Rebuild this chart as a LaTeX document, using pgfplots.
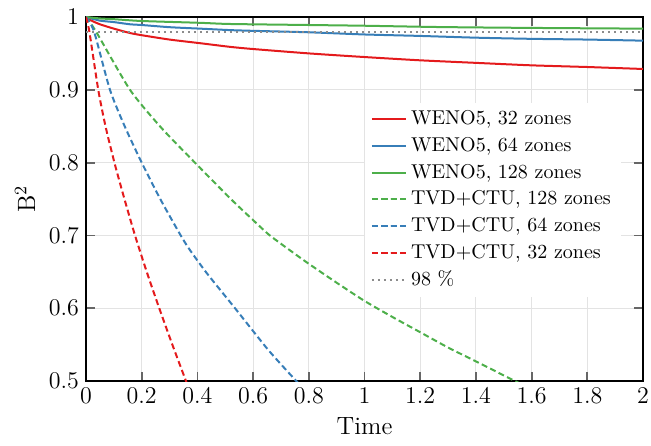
\documentclass[border=0pt]{standalone}
\usepackage{pgfplots}
\pgfplotsset{compat=1.18}
\usetikzlibrary{calc}
\definecolor{cred}{RGB}{228,26,28}
\definecolor{cblue}{RGB}{55,126,184}
\definecolor{cgreen}{RGB}{77,175,74}
\definecolor{cdot}{RGB}{140,140,140}
\begin{document}
\begin{tikzpicture}
\begin{axis}[
  scale only axis,
  width=278.5pt, height=182pt,
  xmin=0, xmax=2, ymin=0.5, ymax=1,
  xtick={0,0.2,...,2.01}, ytick={0.5,0.6,...,1.01},
  grid=major,
  major grid style={gray!22, line width=0.5pt},
  axis line style={black, line width=0.9pt},
  major tick style={gray!80!black, line width=0.9pt},
  major tick length=4.5pt,
  tick label style={font=\fontsize{12.5}{15}\selectfont},
  label style={font=\fontsize{12.5}{15}\selectfont},
  xlabel={Time}, ylabel={B\textsuperscript{2}},
  legend cell align=left,
  legend style={draw=none, fill=white, at={(axis cs:1.0,0.883)}, anchor=north west, font=\normalsize, row sep=0.8pt},
  every axis plot/.append style={line width=1pt, smooth, tension=0.4},
]
\addplot[cred] coordinates {(0,1) (0.02,0.995) (0.05,0.990) (0.1,0.984) (0.158,0.978) (0.2,0.975) (0.3,0.969) (0.41,0.964) (0.517,0.959) (0.6,0.956) (0.8,0.950) (1.0,0.945) (1.2,0.9405) (1.4,0.937) (1.6,0.9336) (1.8,0.9313) (2.0,0.9286)};
\addlegendentry{WENO5, 32 zones}
\addplot[cblue] coordinates {(0,1) (0.05,0.995) (0.1,0.993) (0.158,0.990) (0.2,0.989) (0.3,0.986) (0.41,0.984) (0.517,0.982) (0.6,0.981) (0.8,0.979) (1.0,0.976) (1.2,0.974) (1.4,0.9716) (1.6,0.970) (1.8,0.969) (2.0,0.9675)};
\addlegendentry{WENO5, 64 zones}
\addplot[cgreen] coordinates {(0,1) (0.05,0.998) (0.1,0.997) (0.2,0.9945) (0.41,0.992) (0.517,0.9904) (0.8,0.989) (1.0,0.988) (1.27,0.9862) (1.6,0.985) (2.0,0.984)};
\addlegendentry{WENO5, 128 zones}
\addplot[cgreen, dash pattern=on 3pt off 1.7pt] coordinates {(0,1) (0.036,0.98) (0.158,0.90) (0.27,0.848) (0.391,0.80) (0.52,0.75) (0.6,0.721) (0.66,0.70) (0.745,0.676) (0.8,0.661) (0.9,0.635) (1.0,0.610) (1.1,0.588) (1.2,0.567) (1.3,0.546) (1.4,0.527) (1.54,0.50) (1.58,0.493)};
\addlegendentry{TVD+CTU, 128 zones}
\addplot[cblue, dash pattern=on 3pt off 1.7pt] coordinates {(0,1) (0.029,0.98) (0.086,0.90) (0.14,0.849) (0.2,0.80) (0.268,0.749) (0.34,0.70) (0.373,0.68) (0.434,0.648) (0.535,0.60) (0.645,0.547) (0.7,0.523) (0.755,0.50) (0.78,0.49)};
\addlegendentry{TVD+CTU, 64 zones}
\addplot[cred, dash pattern=on 3pt off 1.7pt] coordinates {(0,1) (0.012,0.98) (0.044,0.90) (0.07,0.85) (0.102,0.80) (0.138,0.75) (0.176,0.70) (0.218,0.65) (0.263,0.60) (0.31,0.55) (0.359,0.50) (0.37,0.49)};
\addlegendentry{TVD+CTU, 32 zones}
\addplot[cdot, line width=1pt, dash pattern=on 1pt off 2pt, sharp plot] coordinates {(0,0.98) (2,0.98)};
\addlegendentry{98 \%}
\end{axis}
\pgfresetboundingbox
\useasboundingbox ($(current axis.south west)+(-43pt,-32pt)$) rectangle ($(current axis.north east)+(4pt,8.5pt)$);
\end{tikzpicture}
\end{document}
